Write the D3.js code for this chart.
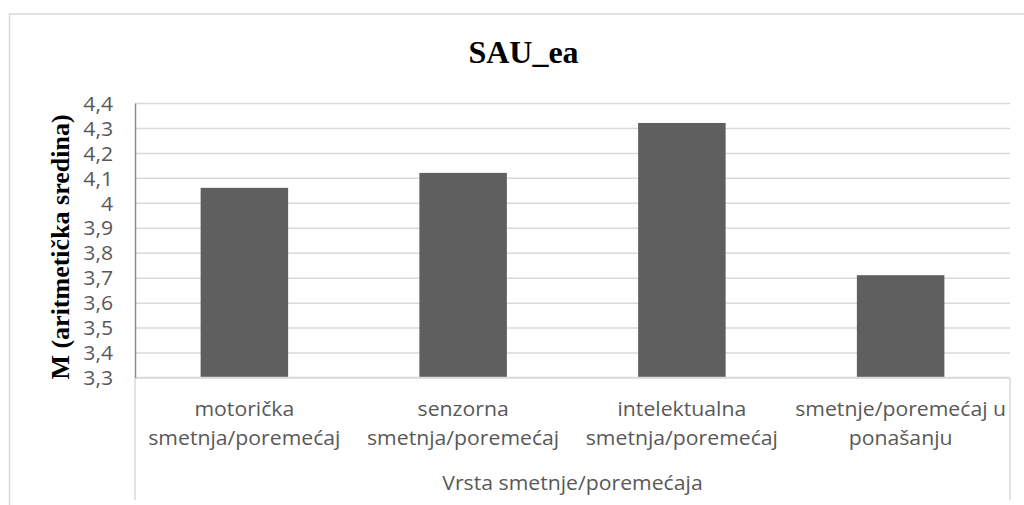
<!DOCTYPE html>
<html>
<head>
<meta charset="utf-8">
<script src="https://cdn.jsdelivr.net/npm/d3@7"></script>
<style>
  html, body { margin: 0; padding: 0; background: #fff; }
  svg { display: block; }
</style>
</head>
<body>
<svg id="chart" width="1024" height="505"></svg>
<script>
// ---- data ----
const chartTitle = "SAU_ea";
const yAxisTitle = "M (aritmetička sredina)";
const xAxisTitle = "Vrsta smetnje/poremećaja";
const categories = [
  "motorička smetnja/poremećaj",
  "senzorna smetnja/poremećaj",
  "intelektualna smetnja/poremećaj",
  "smetnje/poremećaj u ponašanju"
];
const categoryLines = [
  ["motorička", "smetnja/poremećaj"],
  ["senzorna", "smetnja/poremećaj"],
  ["intelektualna", "smetnja/poremećaj"],
  ["smetnje/poremećaj u", "ponašanju"]
];
const values = [4.06, 4.12, 4.32, 3.71];
const yTicks = [3.3, 3.4, 3.5, 3.6, 3.7, 3.8, 3.9, 4.0, 4.1, 4.2, 4.3, 4.4];
const yDomain = [3.3, 4.4];

// ---- layout ----
const plot = { left: 135, right: 1010, top: 103, bottom: 377.5 };
const boxBottom = 500;
const sansFont = "'Open Sans', 'DejaVu Sans', sans-serif";
const serifFont = "'Liberation Serif', 'Times New Roman', serif";
const textGray = "#595959";
const gridColor = "#d9d9d9";
const labelSize = 20;
const stretchK = 1.06;

const svg = d3.select("#chart");
const locale = d3.formatLocale({ decimal: ",", thousands: ".", grouping: [3], currency: ["", ""] });
const fmt = locale.format(".1~f");

const x = d3.scaleBand().domain(categories).range([plot.left, plot.right])
  .paddingInner(0.6).paddingOuter(0.3);
const y = d3.scaleLinear().domain(yDomain).range([plot.bottom, plot.top]);

function stretch(sel, k) {
  sel.each(function () {
    const w = this.getComputedTextLength();
    this.setAttribute("textLength", w * k);
    this.setAttribute("lengthAdjust", "spacingAndGlyphs");
  });
}

// outer chart border
svg.append("rect")
  .attr("x", 9.5).attr("y", 14)
  .attr("width", 1100).attr("height", 600)
  .attr("fill", "#fff")
  .attr("stroke", gridColor).attr("stroke-width", 1.5);

// title
svg.append("text")
  .attr("x", 523.5).attr("y", 63)
  .attr("text-anchor", "middle")
  .attr("font-family", serifFont).attr("font-weight", "bold")
  .attr("font-size", 32).attr("fill", "#000")
  .text(chartTitle);

// gridlines via axis
const gridAxis = d3.axisLeft(y).tickValues(yTicks)
  .tickSize(-(plot.right - plot.left)).tickFormat("");
const gridG = svg.append("g").attr("transform", `translate(${plot.left},0)`).call(gridAxis);
gridG.select(".domain").remove();
gridG.selectAll(".tick line").attr("stroke", gridColor).attr("stroke-width", 1.5);

// bars
svg.append("g").selectAll("rect")
  .data(values)
  .join("rect")
  .attr("x", (d, i) => x(categories[i]))
  .attr("width", x.bandwidth())
  .attr("y", d => y(d))
  .attr("height", d => y(yDomain[0]) - y(d))
  .attr("fill", "#5f5f5f");

// category box (x axis line and side lines)
const boxG = svg.append("g").attr("stroke", gridColor).attr("stroke-width", 1.5).attr("fill", "none");
boxG.append("line").attr("x1", plot.left).attr("x2", plot.right).attr("y1", plot.bottom).attr("y2", plot.bottom);
boxG.append("line").attr("x1", plot.left).attr("x2", plot.left).attr("y1", plot.bottom).attr("y2", boxBottom);
boxG.append("line").attr("x1", plot.right).attr("x2", plot.right).attr("y1", plot.bottom).attr("y2", boxBottom);

// y axis with labels
const yAxis = d3.axisLeft(y).tickValues(yTicks).tickSize(0).tickPadding(22).tickFormat(d => fmt(d));
const yG = svg.append("g").attr("transform", `translate(${plot.left},0)`).call(yAxis);
yG.select(".domain").attr("stroke", "#8c8c8c").attr("stroke-width", 1.5);
yG.selectAll(".tick text")
  .attr("font-family", sansFont).attr("font-size", labelSize).attr("fill", textGray)
  .attr("dy", "0.36em");
stretch(yG.selectAll(".tick text"), stretchK);

// category labels
const catG = svg.append("g");
categoryLines.forEach((lines, i) => {
  const cx = x(categories[i]) + x.bandwidth() / 2;
  lines.forEach((ln, j) => {
    catG.append("text")
      .attr("x", cx).attr("y", 416 + j * 29)
      .attr("text-anchor", "middle")
      .attr("font-family", sansFont).attr("font-size", labelSize).attr("fill", textGray)
      .text(ln);
  });
});
stretch(catG.selectAll("text"), stretchK);

// x axis title
const xt = svg.append("text")
  .attr("x", (plot.left + plot.right) / 2).attr("y", 490)
  .attr("text-anchor", "middle")
  .attr("font-family", sansFont).attr("font-size", labelSize).attr("fill", textGray)
  .text(xAxisTitle);
stretch(xt, stretchK);

// y axis title
svg.append("text")
  .attr("transform", "translate(69,247) rotate(-90)")
  .attr("text-anchor", "middle")
  .attr("font-family", serifFont).attr("font-weight", "bold")
  .attr("font-size", 26).attr("fill", "#000")
  .text(yAxisTitle);
</script>
</body>
</html>
